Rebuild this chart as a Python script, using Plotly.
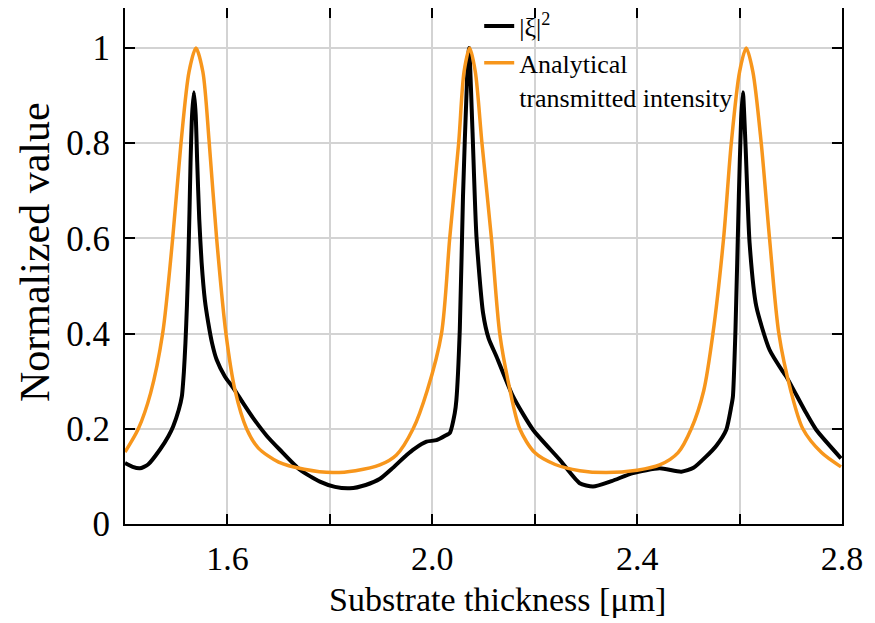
import plotly.graph_objects as go

# ---- data ----
thickness_black = [1.400, 1.415, 1.429, 1.445, 1.468, 1.485, 1.494, 1.505, 1.511, 1.515,
                   1.518, 1.521, 1.5235, 1.526, 1.528, 1.531, 1.5346, 1.538, 1.541, 1.545,
                   1.5496, 1.556, 1.5626, 1.570, 1.579, 1.595, 1.6113, 1.630, 1.6503, 1.677,
                   1.7024, 1.7415, 1.7805, 1.810, 1.839, 1.870, 1.898, 1.920, 1.950, 1.965,
                   1.9887, 2.0082, 2.0277, 2.034, 2.0439, 2.047, 2.0537, 2.060, 2.0679, 2.0718,
                   2.0784, 2.0862, 2.0991, 2.110, 2.1253, 2.1577, 2.1967, 2.2488, 2.2878, 2.3138,
                   2.350, 2.3918, 2.4439, 2.4862, 2.510, 2.535, 2.555, 2.574, 2.5838, 2.587,
                   2.592, 2.5986, 2.603, 2.6065, 2.6117, 2.6195, 2.6326, 2.6585, 2.6845, 2.6911,
                   2.7301, 2.7496, 2.798]
xi_sq = [0.128, 0.120, 0.117, 0.125, 0.156, 0.185, 0.205, 0.240, 0.268, 0.320,
         0.380, 0.460, 0.549, 0.660, 0.760, 0.860, 0.907, 0.860, 0.760, 0.640,
         0.549, 0.470, 0.4225, 0.380, 0.345, 0.310, 0.286, 0.255, 0.2225, 0.185,
         0.156, 0.114, 0.089, 0.078, 0.075, 0.082, 0.095, 0.115, 0.145, 0.158,
         0.173, 0.176, 0.187, 0.191, 0.233, 0.260, 0.408, 0.689, 0.935, 1.000,
         0.829, 0.605, 0.4436, 0.390, 0.352, 0.268, 0.198, 0.135, 0.0857, 0.0786,
         0.090, 0.107, 0.117, 0.110, 0.118, 0.142, 0.165, 0.198, 0.247, 0.268,
         0.408, 0.689, 0.850, 0.907, 0.794, 0.591, 0.4575, 0.366, 0.320, 0.310,
         0.233, 0.198, 0.138]

thickness_orange = [1.400, 1.426, 1.450, 1.4735, 1.4931, 1.5093, 1.525, 1.5385, 1.552, 1.5645,
                    1.5789, 1.5971, 1.615, 1.6374, 1.660, 1.700, 1.750, 1.806,
                    1.850, 1.8976, 1.930, 1.9626, 1.990, 2.018, 2.034, 2.0515, 2.062, 2.073,
                    2.084, 2.097, 2.1155, 2.1317, 2.150, 2.1707, 2.200, 2.240, 2.288, 2.340,
                    2.400, 2.4439, 2.480, 2.5057, 2.530, 2.548, 2.5688, 2.5838, 2.600, 2.613,
                    2.626, 2.6423, 2.6585, 2.6767, 2.700, 2.7235, 2.760, 2.798]
analytical = [0.151, 0.200, 0.275, 0.400, 0.600, 0.800, 0.950, 1.000, 0.950, 0.800,
              0.600, 0.400, 0.280, 0.200, 0.160, 0.130, 0.115, 0.108,
              0.112, 0.124, 0.145, 0.200, 0.280, 0.400, 0.600, 0.800, 0.950, 1.000,
              0.950, 0.800, 0.600, 0.400, 0.290, 0.200, 0.150, 0.125, 0.112, 0.108,
              0.113, 0.124, 0.150, 0.200, 0.280, 0.400, 0.600, 0.800, 0.950, 1.000,
              0.950, 0.800, 0.600, 0.400, 0.280, 0.200, 0.150, 0.120]

x_tickvals = [1.6, 1.8, 2.0, 2.2, 2.4, 2.6, 2.8]
x_ticktext = ["1.6", "", "2.0", "", "2.4", "", "2.8"]
y_tickvals = [0, 0.2, 0.4, 0.6, 0.8, 1.0]
y_ticktext = ["0", "0.2", "0.4", "0.6", "0.8", "1"]
x_title = "Substrate thickness [μm]"
y_title = "Normalized value"

FONT = "Liberation Serif, Times New Roman, serif"

fig = go.Figure()
fig.add_trace(go.Scatter(
    x=thickness_black, y=xi_sq, mode="lines", name="|ξ|<sup>2</sup>", legendgroup="a",
    line=dict(color="black", width=4, shape="spline", smoothing=0.6)))
fig.add_trace(go.Scatter(
    x=thickness_orange, y=analytical, mode="lines", legendgroup="b",
    name="Analytical<br>transmitted intensity",
    line=dict(color="#F7961C", width=3.5, shape="spline", smoothing=0.8)))

axis_common = dict(showline=True, linecolor="black", linewidth=2, mirror="allticks",
                   ticks="inside", ticklen=10, tickwidth=1.5, tickcolor="black",
                   showgrid=True, gridcolor="#d3d3d3", gridwidth=1.5, zeroline=False,
                   automargin=False)

fig.update_xaxes(range=[1.4, 2.8], tickvals=x_tickvals, ticktext=x_ticktext,
                 tickfont=dict(family=FONT, size=34, color="black"),
                 ticklabelstandoff=3, **axis_common)
fig.update_yaxes(range=[0, 1.084], tickvals=y_tickvals, ticktext=y_ticktext,
                 tickfont=dict(family=FONT, size=35, color="black"),
                 ticklabelstandoff=6, **axis_common)

fig.add_annotation(text=x_title, xref="paper", yref="paper", x=0.519, y=-0.147,
                   xanchor="center", yanchor="middle", showarrow=False,
                   font=dict(family=FONT, size=34, color="black"))
fig.add_annotation(text=y_title, xref="paper", yref="paper", x=-0.1255, y=0.527,
                   xanchor="center", yanchor="middle", showarrow=False, textangle=-90,
                   font=dict(family=FONT, size=42, color="black"))

fig.update_layout(
    width=867, height=615,
    margin=dict(l=117, r=33, t=0, b=99, autoexpand=False),
    plot_bgcolor="white", paper_bgcolor="white",
    showlegend=True,
    legend=dict(x=0.494, y=1.0105, xanchor="left", yanchor="top",
                bgcolor="rgba(255,255,255,0)", borderwidth=0, valign="top",
                traceorder="grouped", tracegroupgap=0,
                font=dict(family=FONT, size=26, color="black")),
)

fig.write_html("out.html")
